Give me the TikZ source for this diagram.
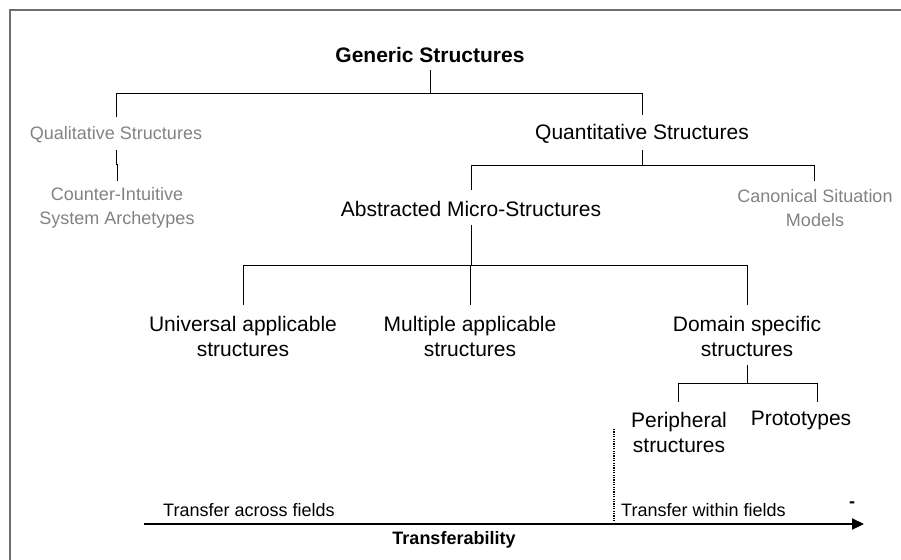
\documentclass[tikz,border=0pt]{standalone}
\usepackage{fontspec}
\setmainfont{Liberation Sans}
\usetikzlibrary{arrows.meta}
\definecolor{framegray}{RGB}{110,110,110}
\definecolor{labelgray}{RGB}{130,130,130}
\begin{document}
\begin{tikzpicture}[x=1pt,y=-1pt,
  lbl/.style={inner sep=0pt,align=center,font=\fontsize{21}{25}\selectfont},
  dim/.style={inner sep=0pt,align=center,text=labelgray,font=\fontsize{18}{24}\selectfont},
  small/.style={inner sep=0pt,anchor=base west,font=\fontsize{18}{22}\selectfont},
  tree/.style={line width=0.9pt,black},
]
\useasboundingbox (0,0) rectangle (901,559);
% frame (top and left edges)
\draw[framegray,line width=2pt] (10,565) -- (10,10) -- (905,10);

% labels
\node[lbl,font=\fontsize{21}{25}\selectfont\bfseries] (gen) at (430,55) {Generic Structures};
\node[dim] (qual) at (116,135) {Qualitative Structures};
\node[dim] (cisa) at (117,208) {Counter-Intuitive\\System Archetypes};
\node[lbl] (quan) at (642,134) {Quantitative Structures};
\node[lbl] (abs) at (471,209) {Abstracted Micro-Structures};
\node[dim] (csm) at (815,208) {Canonical Situation\\Models};
\node[lbl] (univ) at (243,336) {Universal applicable\\structures};
\node[lbl] (mult) at (470,336) {Multiple applicable\\structures};
\node[lbl] (dom) at (747,336) {Domain specific\\structures};
\node[lbl] (peri) at (679,432) {Peripheral\\structures};
\node[lbl] (proto) at (801,420) {Prototypes};

% tree connectors
\coordinate (j1) at (430,93);
\draw[tree] (gen.south |- 0,70) -- (j1);
\draw[tree] (116,117) -- (116,93) -- (642,93) -- (642,115);
\draw[tree] (116,150) -- (116,164) -- (117,164) -- (117,181);
\draw[tree] (642,150) -- (642,165);
\draw[tree] (471,190) -- (471,165) -- (814,165) -- (814,181);
\draw[tree] (471,225) -- (471,265);
\draw[tree] (243,305) -- (243,265) -- (747,265) -- (747,305);
\draw[tree] (470,265) -- (470,305);
\draw[tree] (747,365) -- (747,383);
\draw[tree] (678,402) -- (678,383) -- (817,383) -- (817,402);

% transferability axis
\coordinate (ax0) at (144,524);
\coordinate (ax1) at (864,524);
\draw[line width=2.2pt,-{Triangle[length=12pt,width=11pt]}] (ax0) -- (ax1);
\coordinate (dv0) at (614,429);
\coordinate (dv1) at (614,521);
\draw[line width=1.2pt,dash pattern=on 1.2pt off 1.2pt] (dv0) -- (dv1);
\node[small] (across) at (163,516) {Transfer across fields};
\node[small] (within) at (621,516) {Transfer within fields};
\node[inner sep=0pt,font=\fontsize{18}{22}\selectfont\bfseries] (minus) at (852,505) {-};
\node[inner sep=0pt,font=\fontsize{18}{22}\selectfont\bfseries] (trans) at (454,540) {Transferability};
\end{tikzpicture}
\end{document}
